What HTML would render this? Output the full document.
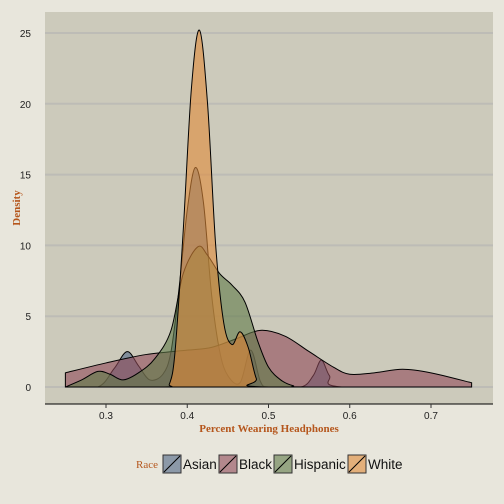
<!DOCTYPE html>
<html><head><meta charset="utf-8"><style>
body{margin:0;background:#e8e6dc;}
svg{display:block;font-family:"Liberation Sans",sans-serif;}
</style></head><body>
<svg id="chart" width="504" height="504" viewBox="0 0 504 504">
<rect x="0" y="0" width="504" height="504" fill="#e8e6dc"/>
<rect x="45" y="12" width="448" height="392" fill="#cccabb"/>
<g id="grid"></g><g id="series"></g><g id="axes"></g>
<text x="269" y="432" text-anchor="middle" font-family="Liberation Serif,serif" font-weight="bold" font-size="11" fill="#b5561c">Percent Wearing Headphones</text>
<text transform="translate(20,208) rotate(-90)" text-anchor="middle" font-family="Liberation Serif,serif" font-weight="bold" font-size="11" fill="#b5561c">Density</text>
<g id="legend">
<text x="136" y="468" font-family="Liberation Serif,serif" font-size="11" fill="#b5561c">Race</text>
</g>
</svg>
<script>
const xTicks=[0.3,0.4,0.5,0.6,0.7];
const yTicks=[0,5,10,15,20,25];
const seriesNames=["Asian","Black","Hispanic","White"];
const seriesColors=["#4f6686","#8f4a58","#5f7a48","#e08a38"];
const asianX=[0.25,0.29,0.31,0.326,0.34,0.354,0.37,0.38,0.39,0.40,0.41,0.42,0.43,0.44,0.45,0.465,0.478,0.49,0.50,0.54,0.555,0.565,0.575,0.59,0.75];
const asianY=[0,0,1.3,2.5,1.5,0.5,0.9,2.5,7,12.5,15.5,13,6.5,2.5,0.8,0.3,2.6,0.4,0,0,0.8,1.9,0.8,0,0];
const blackX=[0.25,0.3,0.35,0.4,0.43,0.46,0.49,0.52,0.55,0.58,0.6,0.63,0.665,0.7,0.75];
const blackY=[1.0,1.7,2.3,2.6,2.8,3.4,4.0,3.6,2.5,1.4,0.9,1.0,1.25,1.0,0.3];
const hispX=[0.25,0.27,0.29,0.305,0.321,0.34,0.36,0.38,0.395,0.413,0.425,0.44,0.455,0.471,0.487,0.5,0.515,0.53,0.55,0.75];
const hispY=[0,0.5,1.1,0.9,0.5,1.0,2.0,4.0,8.0,9.9,9.3,8.0,7.2,6.0,3.2,1.4,0.5,0.1,0,0];
const whiteX=[0.25,0.37,0.378,0.385,0.395,0.405,0.415,0.425,0.435,0.445,0.455,0.465,0.475,0.485,0.495,0.75];
const whiteY=[0,0,0.2,2.5,11,21,25.2,20,10,4.5,3.0,3.9,2.8,0.6,0,0];
const NS="http://www.w3.org/2000/svg";
const sx=v=>106+(v-0.3)*812.5, sy=d=>387-d*14.16;
function mk(tag,attrs,parent){const e=document.createElementNS(NS,tag);for(const k in attrs)e.setAttribute(k,attrs[k]);parent.appendChild(e);return e;}
const grid=document.getElementById('grid'),axes=document.getElementById('axes'),ser=document.getElementById('series');
yTicks.forEach(t=>{
 const l=mk('line',{x1:45,x2:493,y1:sy(t),y2:sy(t),stroke:'#bdbcb6','stroke-width':2},grid);
 
 
 const tx=mk('text',{x:31,y:sy(t)+4,'text-anchor':'end','font-size':10,fill:'#222'},axes);
 tx.textContent=t;
 
 
});
const ax=mk('line',{x1:45,x2:493,y1:404,y2:404,stroke:'#000','stroke-width':1},axes);


xTicks.forEach(t=>{
 const tk=mk('line',{x1:sx(t),x2:sx(t),y1:404,y2:408,stroke:'#333'},axes);
 
 
 const tx=mk('text',{x:sx(t),y:419,'text-anchor':'middle','font-size':10,fill:'#222'},axes);
 tx.textContent=t;
 
 
});
function pathFor(xs,ys){
 const p=xs.map((x,i)=>[sx(x),sy(ys[i])]);
 let d=`M${p[0][0]},${sy(0)}L${p[0][0]},${p[0][1]}`;
 for(let i=0;i<p.length-1;i++){
  const p0=p[i-1]||p[i],p1=p[i],p2=p[i+1],p3=p[i+2]||p2;
  let c1y=p1[1]+(p2[1]-p0[1])/6,c2y=p2[1]-(p3[1]-p1[1])/6;
  c1y=Math.min(c1y,sy(0));c2y=Math.min(c2y,sy(0));
  d+=`C${p1[0]+(p2[0]-p0[0])/6},${c1y} ${p2[0]-(p3[0]-p1[0])/6},${c2y} ${p2[0]},${p2[1]}`;
 }
 d+=`L${p[p.length-1][0]},${sy(0)}Z`;return d;
}
const data=[[asianX,asianY],[blackX,blackY],[hispX,hispY],[whiteX,whiteY]];
data.forEach((s,i)=>{
 const pa=mk('path',{d:pathFor(s[0],s[1]),fill:seriesColors[i],'fill-opacity':0.6,stroke:'#000','stroke-width':1},ser);
 
 
});
const leg=document.getElementById('legend');
const keyX=[163,219,274,348];
seriesNames.forEach((n,i)=>{
 const r=mk('rect',{x:keyX[i],y:455,width:18,height:18,fill:seriesColors[i],'fill-opacity':0.6,stroke:'#333','stroke-width':1},leg);
 
 
 mk('line',{x1:keyX[i]+1,y1:472,x2:keyX[i]+17,y2:456,stroke:'#000'},leg);
 const t=mk('text',{x:keyX[i]+20,y:469,'font-size':13.5,fill:'#111'},leg);
 t.textContent=n;
 
 
});
</script>
</body></html>
